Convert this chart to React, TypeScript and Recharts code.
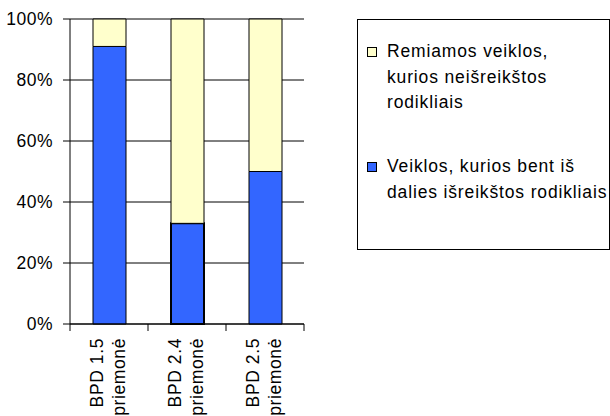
import { Bar, BarChart, CartesianGrid, Cell, XAxis, YAxis } from "recharts";

const categories = ["BPD 1.5", "BPD 2.4", "BPD 2.5"];
const categorySuffix = "priemonė";
const withIndicators = [91, 33, 50];
const withoutIndicators = [9, 67, 50];
const yTicks = [0, 20, 40, 60, 80, 100];

const seriesInfo = [
  { key: "without", lines: ["Remiamos veiklos,", "kurios neišreikštos", "rodikliais"], color: "#FFFFCC" },
  { key: "with", lines: ["Veiklos, kurios bent iš", "dalies išreikštos rodikliais"], color: "#3366FF" },
];

const data = categories.map((c, i) => ({
  name: c,
  with: withIndicators[i],
  without: withoutIndicators[i],
}));

const font = "'Liberation Sans', Arial, sans-serif";
const band = 78;

const XTick = (props: any) => {
  const { x, payload, index } = props;
  // draw relative to the axis line at y=324
  return (
    <g transform={`translate(${x},324)`}>
      <line x1={-band / 2} x2={-band / 2} y1={0} y2={7} stroke="#000" />
      {index === categories.length - 1 && (
        <line x1={band / 2} x2={band / 2} y1={0} y2={7} stroke="#000" />
      )}
      <text transform="rotate(-90)" textAnchor="end" fontSize={17.5} letterSpacing={0.6} fontFamily={font} fill="#000">
        <tspan x={-14} y={-6}>{payload.value}</tspan>
        <tspan x={-14} y={16}>{categorySuffix}</tspan>
      </text>
    </g>
  );
};

export default function App() {
  return (
    <div style={{ position: "absolute", left: 0, top: 0, width: 610, height: 416, background: "#fff", fontFamily: font }}>
      <BarChart
        width={610}
        height={416}
        data={data}
        margin={{ top: 19, right: 306, bottom: 0, left: 0 }}
        barSize={33}
      >
        <CartesianGrid vertical={false} stroke="#000" />
        <XAxis
          dataKey="name"
          axisLine={{ stroke: "#000" }}
          tickLine={false}
          tickSize={0}
          tickMargin={0}
          interval={0}
          height={92}
          tick={<XTick />}
        />
        <YAxis
          width={70}
          domain={[0, 100]}
          ticks={yTicks}
          tickFormatter={(v) => `${v}%`}
          axisLine={{ stroke: "#000" }}
          tickLine={{ stroke: "#000" }}
          tickSize={7}
          tickMargin={10}
          tick={{ fill: "#000", fontSize: 17.5, fontFamily: font, letterSpacing: 0.5 }}
        />
        <YAxis yAxisId="right" orientation="right" width={0} axisLine={{ stroke: "#999" }} tick={false} tickLine={false} />
        <Bar dataKey="with" stackId="a" fill="#3366FF" stroke="#000" isAnimationActive={false}>
          {data.map((d, i) => (
            <Cell key={i} strokeWidth={i === 1 ? 2 : 1} />
          ))}
        </Bar>
        <Bar dataKey="without" stackId="a" fill="#FFFFCC" stroke="#000" isAnimationActive={false} />
      </BarChart>
      <div
        style={{
          position: "absolute",
          left: 357,
          top: 19,
          width: 251,
          height: 229,
          border: "1px solid #000",
          fontSize: 17.5,
          letterSpacing: 0.85,
          lineHeight: "25.5px",
          color: "#000",
        }}
      >
        {seriesInfo.map((s, i) => (
          <div key={s.key} style={{ position: "absolute", left: 29, top: i === 0 ? 19 : 134 }}>
            <div
              style={{
                position: "absolute",
                left: -20,
                top: 8,
                width: 8,
                height: 8,
                border: "1px solid #000",
                background: s.color,
              }}
            />
            {s.lines.map((l, j) => (
              <div key={j} style={{ whiteSpace: "nowrap" }}>{l}</div>
            ))}
          </div>
        ))}
      </div>
    </div>
  );
}
